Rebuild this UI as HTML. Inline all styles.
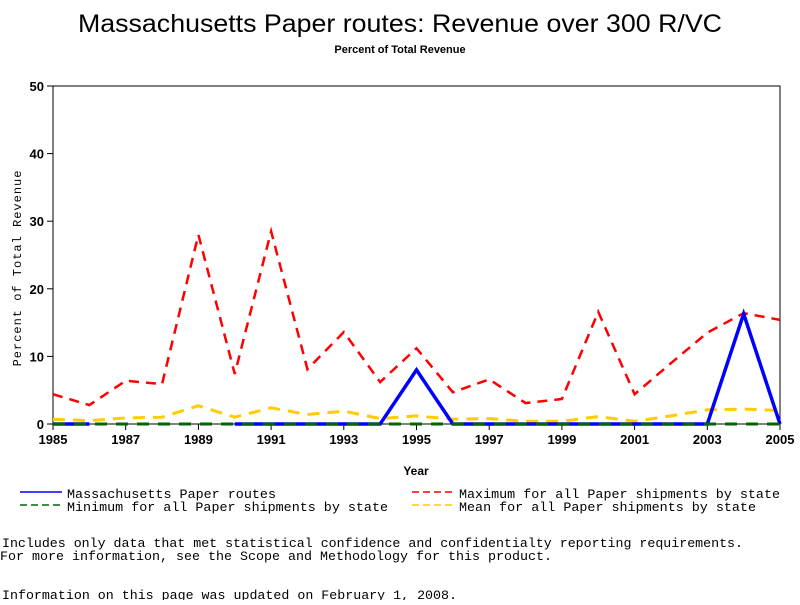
<!DOCTYPE html>
<html><head><meta charset="utf-8"><style>
body{margin:0;background:#fff;width:800px;height:600px;overflow:hidden;font-family:"Liberation Mono",monospace}
svg text{font-family:"Liberation Sans",sans-serif}
.m{font-family:"Liberation Mono",monospace}
</style></head><body>
<svg id="c" width="800" height="600">
<text x="400" y="32" text-anchor="middle" font-size="25" textLength="644" lengthAdjust="spacingAndGlyphs">Massachusetts Paper routes: Revenue over 300 R/VC</text>
<text x="400" y="53" text-anchor="middle" font-size="11" font-weight="bold">Percent of Total Revenue</text>
<g id="plot"></g>
<text x="416" y="475" text-anchor="middle" font-size="12" font-weight="bold">Year</text>
<text transform="translate(21,268) rotate(-90)" text-anchor="middle" font-size="12" class="m" letter-spacing="1">Percent of Total Revenue</text>
<g font-size="13" class="m">
<g><line x1="20" y1="492" x2="62" y2="492" stroke="#00f" stroke-width="1.5"/><text x="67" y="498" class="m" font-size="13" textLength="209" lengthAdjust="spacingAndGlyphs">Massachusetts Paper routes</text></g>
<g><line x1="412" y1="492" x2="454" y2="492" stroke="#f00" stroke-width="1.5" stroke-dasharray="7,4"/><text x="459" y="498" class="m" font-size="13" textLength="321" lengthAdjust="spacingAndGlyphs">Maximum for all Paper shipments by state</text></g>
<g><line x1="20" y1="505" x2="62" y2="505" stroke="#060" stroke-width="1.5" stroke-dasharray="7,4"/><text x="67" y="511" class="m" font-size="13" textLength="321" lengthAdjust="spacingAndGlyphs">Minimum for all Paper shipments by state</text></g>
<g><line x1="412" y1="505" x2="454" y2="505" stroke="#fc0" stroke-width="1.5" stroke-dasharray="7,4"/><text x="459" y="511" class="m" font-size="13" textLength="297" lengthAdjust="spacingAndGlyphs">Mean for all Paper shipments by state</text></g>
</g>
<text x="2" y="547" font-size="13" class="m" textLength="741" lengthAdjust="spacingAndGlyphs">Includes only data that met statistical confidence and confidentialty reporting requirements.</text>
<text x="0" y="560" font-size="13" class="m" textLength="552" lengthAdjust="spacingAndGlyphs">For more information, see the Scope and Methodology for this product.</text>
<text x="2" y="599" font-size="13" class="m" textLength="455" lengthAdjust="spacingAndGlyphs">Information on this page was updated on February 1, 2008.</text>
</svg>
<script>
const years=[1985,1986,1987,1988,1989,1990,1991,1992,1993,1994,1995,1996,1997,1998,1999,2000,2001,2002,2003,2004,2005];
const massValues=[0,0,null,null,null,0,0,0,0,0,8.0,0,0,0,0,0,0,0,0,16.3,0];
const maxValues=[4.4,2.8,6.4,5.9,28,7.4,28.5,8.1,13.6,6.2,11.2,4.7,6.6,3.1,3.7,16.6,4.4,9,13.5,16.4,15.4];
const minValues=[0,0,0,0,0,0,0,0,0,0,0,0,0,0,0,0,0,0,0,0,0];
const meanValues=[0.7,0.5,0.9,1.0,2.7,1.0,2.4,1.4,1.9,0.8,1.2,0.7,0.8,0.4,0.4,1.1,0.4,1.2,2.1,2.2,2.0];
const yTicks=[0,10,20,30,40,50];
const xTicks=[1985,1987,1989,1991,1993,1995,1997,1999,2001,2003,2005];
const X0=53,X1=780,Y0=424,Y1=86;
const xs=y=>X0+(y-1985)/(2005-1985)*(X1-X0);
const ys=v=>Y0-v/50*(Y0-Y1);
const NS='http://www.w3.org/2000/svg';
const g=document.getElementById('plot');
function mk(t,a){const e=document.createElementNS(NS,t);for(const k in a)e.setAttribute(k,a[k]);g.appendChild(e);return e;}
const frame=mk('rect',{x:X0,y:Y1,width:X1-X0,height:Y0-Y1,fill:'none',stroke:'#000','stroke-width':1});


yTicks.forEach(v=>{
  const l=mk('line',{x1:X0-6,x2:X0,y1:ys(v),y2:ys(v),stroke:'#000'});
  
  
  const t=mk('text',{x:X0-9,y:ys(v)+5,'text-anchor':'end','font-size':13,'font-weight':'bold'});
  t.textContent=v;
  
  
});
xTicks.forEach(v=>{
  const l=mk('line',{x1:xs(v),x2:xs(v),y1:Y0,y2:Y0+6,stroke:'#000'});
  
  
  const t=mk('text',{x:xs(v),y:Y0+20,'text-anchor':'middle','font-size':13,'font-weight':'bold'});
  t.textContent=v;
  
  
});
function series(vals,color,w,dash,name){
  let d='',pen=false;
  vals.forEach((v,i)=>{if(v===null){pen=false;return;}d+=(pen?'L':'M')+xs(years[i])+' '+ys(v)+' ';pen=true;});
  const p=mk('path',{d:d,fill:'none',stroke:color,'stroke-width':w,'stroke-dasharray':dash||'none'});
  
  
}
series(meanValues,'#fc0',3,'12,8','mean-line');
series(maxValues,'#f00',2.5,'10,7','max-line');
series(massValues,'#00f',3.5,null,'massachusetts-line');
series(minValues,'#060',3,'12,9','min-line');
</script>
</body></html>
